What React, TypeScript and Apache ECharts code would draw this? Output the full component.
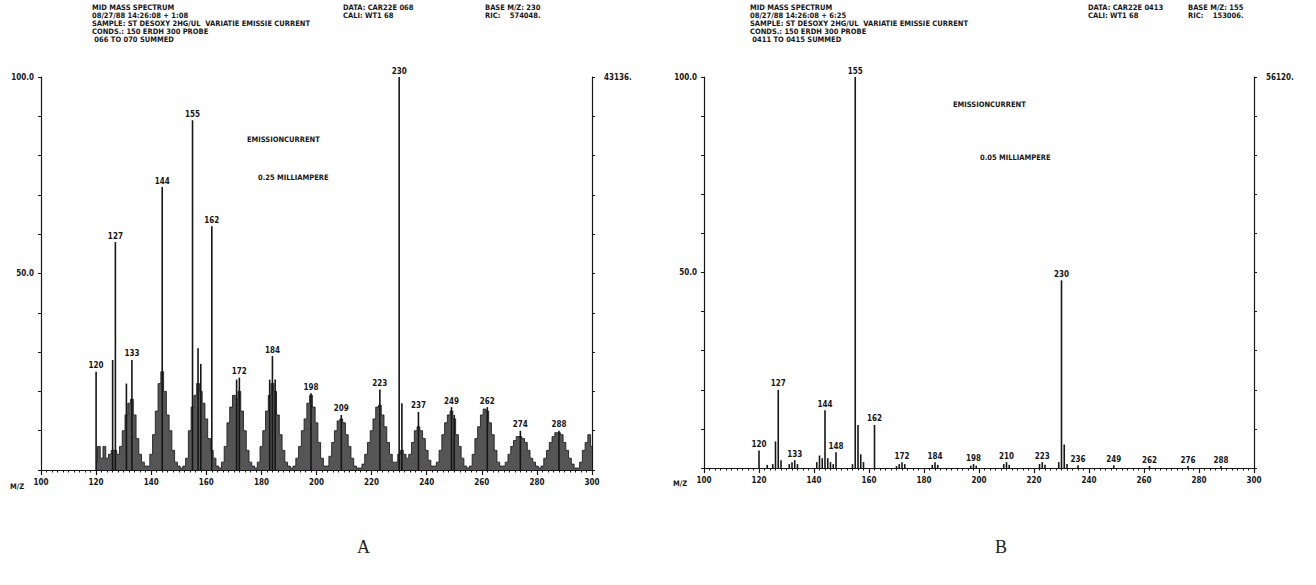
import React, { useEffect, useRef } from "react";
import * as echarts from "echarts";

// ---------- DATA ----------
// Spectrum A: continuous profile (m/z 120..300, relative abundance %)
const profileA_mz = Array.from({ length: 181 }, (_, i) => 120 + i);
const profileA_val = [
  2, 6, 3, 6, 3, 4, 5, 5, 4, 6,
  10, 14, 17, 18, 14, 8, 4, 2, 1, 1,
  4, 9, 15, 22, 25, 20, 14, 10, 5, 2,
  1, 0.5, 1, 3, 10, 16, 19, 22, 20, 17,
  13, 8, 5, 3, 1, 0.5, 2, 6, 12, 16,
  19, 18, 20, 15, 10, 5, 2, 1, 0.5, 2,
  6, 10, 15, 19, 22, 20, 14, 9, 5, 2,
  1, 0.5, 1, 3, 6, 10, 13, 17, 19, 16,
  12, 7, 3, 1, 1, 3.5, 7, 10, 12.5, 13,
  12, 9, 6, 3, 1, 0.5, 0.5, 1.5, 4, 7,
  10, 13, 16, 16.5, 14, 11, 7, 4, 2, 2,
  4, 5, 4, 3, 4, 7, 10, 11, 10, 8,
  5, 2.5, 1, 1, 2, 5, 9, 12, 14, 15,
  13, 9, 6, 3, 1, 0.5, 1, 4, 8, 11,
  14, 15.5, 15, 12, 9, 5, 2, 1, 1, 2,
  4, 6, 7.5, 8.5, 8.5, 8, 7, 5, 3, 2,
  1, 0.5, 1, 3, 5, 7, 8.5, 9.5, 9.5, 9,
  7, 5, 3, 1.5, 0.5, 0.5, 2, 5, 7, 9,
  6,
];
// Spectrum A: stick peaks
const sticksA_mz = [120, 126, 127, 131, 133, 144, 155, 157, 158, 162, 171, 172, 183, 184, 185, 198, 209, 223, 230, 231, 237, 249, 250, 262, 274, 288];
const sticksA_val = [25, 28, 58, 22, 28, 72, 89, 31, 27, 62, 23, 23.5, 23, 29, 23, 19.5, 14, 20.5, 100, 17, 14.8, 16, 14, 16, 10, 10];
const labelsA = [120, 127, 133, 144, 155, 162, 172, 184, 198, 209, 223, 230, 237, 249, 262, 274, 288];

// Spectrum B: stick peaks
const sticksB_mz = [120, 123, 125, 126, 127, 128, 131, 132, 133, 134, 141, 142, 143, 144, 145, 146, 147, 148, 154, 155, 156, 157, 158, 162, 170, 171, 172, 173, 183, 184, 185, 197, 198, 199, 209, 210, 211, 222, 223, 224, 229, 230, 231, 232, 236, 249, 262, 276, 288];
const sticksB_val = [4.5, 0.8, 1, 6.8, 20, 2, 1, 1.5, 2, 1, 1.5, 3.2, 2.5, 14.8, 2.5, 1.5, 1, 4, 1, 100, 11, 3.5, 1.5, 11, 0.5, 1, 1.5, 1, 0.8, 1.5, 0.8, 0.6, 1, 0.6, 1, 1.5, 0.8, 1, 1.5, 0.8, 1.5, 48, 6, 1, 0.7, 0.7, 0.5, 0.5, 0.5];
const labelsB = [120, 127, 133, 144, 148, 155, 162, 172, 184, 198, 210, 223, 230, 236, 249, 262, 276, 288];

const ricTopA = "43136.";
const ricTopB = "56120.";

const headerLeftA = [
  "MID MASS SPECTRUM",
  "08/27/88 14:26:08 + 1:08",
  "SAMPLE: ST DESOXY 2HG/UL  VARIATIE EMISSIE CURRENT",
  "CONDS.: 150 ERDH 300 PROBE",
  " 066 TO 070 SUMMED",
];
const headerMidA = ["DATA: CAR22E 068", "CALI: WT1 68"];
const headerRightA = ["BASE M/Z: 230", "RIC:    574048."];
const noteA = ["EMISSIONCURRENT", "0.25 MILLIAMPERE"];

const headerLeftB = [
  "MID MASS SPECTRUM",
  "08/27/88 14:26:08 + 6:25",
  "SAMPLE: ST DESOXY 2HG/UL  VARIATIE EMISSIE CURRENT",
  "CONDS.: 150 ERDH 300 PROBE",
  " 0411 TO 0415 SUMMED",
];
const headerMidB = ["DATA: CAR22E 0413", "CALI: WT1 68"];
const headerRightB = ["BASE M/Z: 155", "RIC:    153006."];
const noteB = ["EMISSIONCURRENT", "0.05 MILLIAMPERE"];

const captions = ["A", "B"];

// ---------- STYLE ----------
const FONT = "'DejaVu Sans Condensed', 'DejaVu Sans', sans-serif";
const INK = "#161616";

function txt(x: number, y: number, lines: string[], size = 7.5, lh = 8) {
  return {
    type: "text",
    left: x,
    top: y,
    style: {
      text: lines.join("\n"),
      fontFamily: FONT,
      fontWeight: "bold",
      fontSize: size,
      lineHeight: lh,
      fill: INK,
    },
  };
}

function xAxisFor(gridIndex: number) {
  return {
    type: "value",
    gridIndex,
    min: 100,
    max: 300,
    interval: 20,
    axisLine: { show: true, lineStyle: { color: INK, width: 1.2 } },
    axisTick: { show: true, length: 5, lineStyle: { color: INK, width: 1.2 } },
    minorTick: { show: true, splitNumber: 10, length: 2.5, lineStyle: { color: INK, width: 1 } },
    axisLabel: { fontFamily: FONT, fontWeight: "bold", fontSize: 8, color: INK, margin: 8 },
    splitLine: { show: false },
  };
}

function yAxesFor(gridIndex: number, topLabel: string) {
  return [
    {
      type: "value",
      gridIndex,
      position: "left",
      min: 0,
      max: 100,
      interval: 10,
      axisLine: { show: true, lineStyle: { color: INK, width: 1.2 } },
      axisTick: { show: true, length: 3, lineStyle: { color: INK, width: 1 } },
      axisLabel: {
        fontFamily: FONT,
        fontWeight: "bold",
        fontSize: 8,
        color: INK,
        margin: 7,
        formatter: (v: number) => (v === 100 ? "100.0" : v === 50 ? "50.0" : ""),
      },
      splitLine: { show: false },
    },
    {
      type: "value",
      gridIndex,
      position: "right",
      min: 0,
      max: 100,
      interval: 10,
      axisLine: { show: true, lineStyle: { color: INK, width: 1.2 } },
      axisTick: { show: true, length: 3, lineStyle: { color: INK, width: 1 } },
      axisLabel: {
        fontFamily: FONT,
        fontWeight: "bold",
        fontSize: 8,
        color: INK,
        margin: 12,
        formatter: (v: number) => (v === 100 ? topLabel : ""),
      },
      splitLine: { show: false },
    },
  ];
}

function stickData(mz: number[], val: number[], labels: number[]) {
  return mz.map((m, i) => ({
    value: [m, val[i]],
    label: { show: labels.includes(m) },
  }));
}

export default function App() {
  const ref = useRef<HTMLDivElement>(null);

  useEffect(() => {
    document.body.style.margin = "0";
    if (!ref.current) return;
    const chart = echarts.init(ref.current, null, { renderer: "svg" });

    const stickLabel = {
      position: "top",
      distance: 2,
      fontFamily: FONT,
      fontWeight: "bold",
      fontSize: 8,
      color: INK,
      formatter: (p: any) => String(p.value[0]),
    };

    const yA = yAxesFor(0, ricTopA);
    const yB = yAxesFor(1, ricTopB);

    chart.setOption({
      animation: false,
      backgroundColor: "#ffffff",
      grid: [
        { left: 41, top: 77, width: 551, height: 393 },
        { left: 704, top: 77, width: 550, height: 391 },
      ],
      xAxis: [xAxisFor(0), xAxisFor(1)],
      yAxis: [...yA, ...yB],
      series: [
        {
          type: "line",
          xAxisIndex: 0,
          yAxisIndex: 0,
          step: "middle",
          symbol: "none",
          data: profileA_mz.map((m, i) => [m, profileA_val[i]]),
          lineStyle: { color: "#202020", width: 0.9 },
          areaStyle: { color: "#555555", opacity: 1 },
          z: 2,
        },
        {
          type: "bar",
          xAxisIndex: 0,
          yAxisIndex: 0,
          barWidth: 1.6,
          itemStyle: { color: INK },
          label: stickLabel,
          data: stickData(sticksA_mz, sticksA_val, labelsA),
          z: 3,
        },
        {
          type: "bar",
          xAxisIndex: 1,
          yAxisIndex: 2,
          barWidth: 1.6,
          itemStyle: { color: INK },
          label: stickLabel,
          data: stickData(sticksB_mz, sticksB_val, labelsB),
          z: 3,
        },
      ],
      graphic: [
        txt(92, 3, headerLeftA),
        txt(343, 3, headerMidA),
        txt(485, 3, headerRightA),
        txt(247, 135, [noteA[0]]),
        txt(258, 173, [noteA[1]]),
        txt(10, 482, ["M/Z"]),
        txt(750, 3, headerLeftB),
        txt(1088, 3, headerMidB),
        txt(1188, 3, headerRightB),
        txt(953, 100, [noteB[0]]),
        txt(980, 153, [noteB[1]]),
        txt(673, 479, ["M/Z"]),
        {
          type: "text",
          left: 357,
          top: 538,
          style: { text: captions[0], fontFamily: "'Liberation Serif', serif", fontSize: 18, fill: "#222" },
        },
        {
          type: "text",
          left: 995,
          top: 538,
          style: { text: captions[1], fontFamily: "'Liberation Serif', serif", fontSize: 18, fill: "#222" },
        },
      ],
    });

    return () => chart.dispose();
  }, []);

  return <div ref={ref} style={{ width: 1316, height: 585 }} />;
}
